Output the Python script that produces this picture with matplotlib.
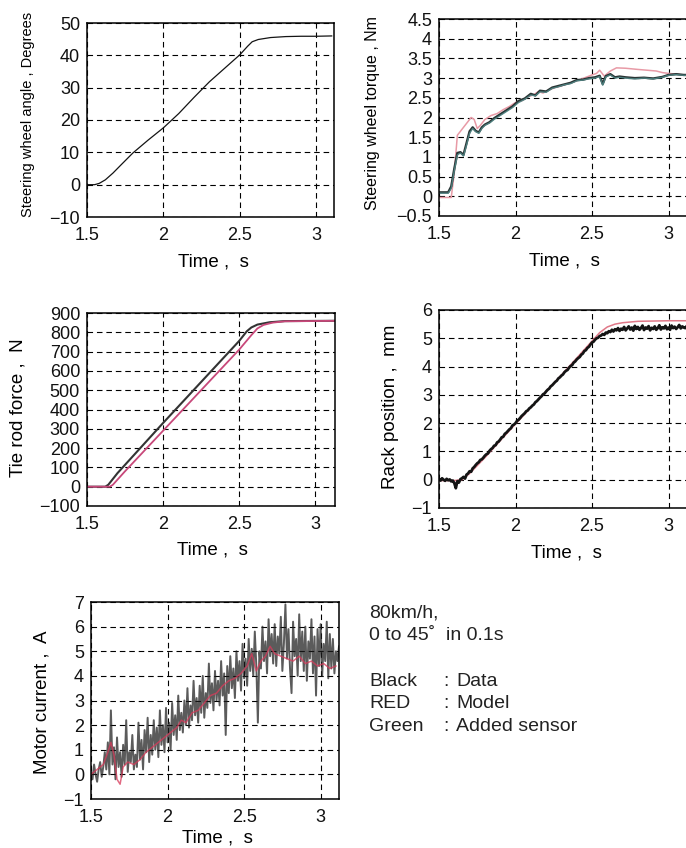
"""Steering step test at 80 km/h: measured data vs model vs added-sensor estimate.

Five panels (steering angle, wheel torque, tie rod force, rack position, motor
current) plus a small text key in the empty slot. Output: out.png
"""

import numpy as np
import matplotlib
matplotlib.use("Agg")
import matplotlib.pyplot as plt
from matplotlib.ticker import FuncFormatter

plt.rcParams["font.family"] = ["Liberation Sans", "DejaVu Sans"]

W, H = 686, 848
BLACK, RED, GREEN = "#141414", "#d2506e", "#4f8584"

# steering wheel angle, deg
ANG_T = [1.50, 1.55, 1.58, 1.62, 1.67, 1.72, 1.80, 1.90, 2.00, 2.10, 2.20, 2.30,
         2.40, 2.50, 2.55, 2.58, 2.62, 2.70, 2.80, 2.90, 3.00, 3.10]
ANG = [0.0, 0.0, 0.4, 1.5, 3.6, 6.0, 9.8, 13.8, 17.6, 22.0, 27.0, 31.8,
       36.0, 40.2, 42.8, 44.2, 44.9, 45.5, 45.8, 45.9, 45.9, 46.0]

# steering wheel torque, Nm
TQ_T = [1.50, 1.56, 1.58, 1.60, 1.62, 1.64, 1.66, 1.68, 1.70, 1.72, 1.74, 1.76,
        1.78, 1.80, 1.83, 1.86, 1.90, 1.94, 1.98, 2.02, 2.06, 2.10, 2.13, 2.16,
        2.20, 2.24, 2.28, 2.32, 2.36, 2.40, 2.44, 2.48, 2.52, 2.55, 2.57, 2.59,
        2.62, 2.65, 2.68, 2.72, 2.78, 2.84, 2.90, 2.96, 3.00, 3.05, 3.10, 3.20]
TQ_DATA = [0.10, 0.10, 0.25, 0.70, 1.10, 1.12, 1.05, 1.35, 1.65, 1.75, 1.66, 1.62,
           1.75, 1.82, 1.88, 1.98, 2.08, 2.18, 2.28, 2.42, 2.48, 2.60, 2.56, 2.68,
           2.66, 2.76, 2.80, 2.84, 2.88, 2.95, 2.96, 3.00, 3.02, 3.06, 2.85, 3.05,
           3.10, 3.02, 3.04, 3.02, 3.00, 3.01, 2.99, 3.03, 3.08, 3.10, 3.08, 3.08]
TQ_SENSOR = [0.08, 0.08, 0.20, 0.65, 1.05, 1.10, 1.02, 1.30, 1.60, 1.72, 1.64, 1.60,
             1.72, 1.80, 1.86, 1.95, 2.05, 2.15, 2.25, 2.38, 2.46, 2.57, 2.55, 2.65,
             2.64, 2.74, 2.78, 2.83, 2.86, 2.93, 2.95, 2.98, 3.00, 3.04, 2.82, 3.03,
             3.08, 3.00, 3.02, 3.00, 2.98, 3.00, 2.98, 3.02, 3.07, 3.09, 3.07, 3.07]
TQ_MODEL_T = [1.50, 1.58, 1.60, 1.62, 1.65, 1.68, 1.71, 1.73, 1.75, 1.77, 1.80, 1.84,
              1.88, 1.92, 1.96, 2.00, 2.04, 2.08, 2.12, 2.15, 2.18, 2.22, 2.26, 2.30,
              2.34, 2.38, 2.42, 2.46, 2.50, 2.53, 2.55, 2.58, 2.62, 2.66, 2.72, 2.80,
              2.86, 2.92, 2.96, 3.00, 3.05, 3.10, 3.20]
TQ_MODEL = [-0.03, -0.03, 0.60, 1.55, 1.70, 1.85, 2.00, 1.95, 1.72, 1.80, 1.95, 2.05,
            2.10, 2.20, 2.28, 2.38, 2.42, 2.52, 2.58, 2.66, 2.62, 2.70, 2.76, 2.80,
            2.86, 2.90, 2.96, 3.02, 3.08, 3.12, 3.20, 3.05, 3.18, 3.26, 3.25, 3.22,
            3.20, 3.18, 3.14, 3.12, 3.10, 3.08, 3.08]

# tie rod force, N
TR_T = [1.50, 1.62, 1.64, 1.70, 2.00, 2.50, 2.55, 2.58, 2.62, 2.70, 2.80, 3.20]
TR_DATA = [0, 0, 10, 70, 330, 755, 805, 825, 840, 852, 858, 860]
TR_MODEL_T = [1.50, 1.65, 1.67, 1.75, 2.00, 2.50, 2.58, 2.62, 2.66, 2.72, 2.80, 3.20]
TR_MODEL = [0, 0, 10, 80, 290, 710, 785, 820, 838, 850, 857, 860]

# rack position, mm (data sampled every 10 ms from 1.50 s)
RACK_DATA = [
    0.02, -0.03, 0.05, 0.00, -0.04, 0.03, -0.02, 0.01, -0.06, -0.03,
    -0.12, -0.30, -0.05, -0.10, 0.02, 0.05, 0.10, 0.04, 0.18, 0.22,
    0.30, 0.28, 0.40, 0.45, 0.52, 0.58, 0.62, 0.70, 0.72, 0.78,
    0.85, 0.90, 0.93, 1.02, 1.08, 1.12, 1.20, 1.22, 1.32, 1.35,
    1.42, 1.50, 1.52, 1.62, 1.66, 1.72, 1.78, 1.82, 1.92, 1.95,
    2.00, 2.08, 2.12, 2.18, 2.25, 2.30, 2.35, 2.42, 2.45, 2.52,
    2.56, 2.62, 2.66, 2.74, 2.78, 2.84, 2.90, 2.95, 3.02, 3.05,
    3.12, 3.18, 3.22, 3.30, 3.34, 3.40, 3.46, 3.50, 3.58, 3.62,
    3.68, 3.72, 3.80, 3.85, 3.88, 3.96, 4.02, 4.05, 4.14, 4.18,
    4.25, 4.30, 4.34, 4.42, 4.46, 4.55, 4.58, 4.66, 4.70, 4.78,
    4.85, 4.88, 4.95, 5.00, 5.02, 5.08, 5.10, 5.15, 5.12, 5.20,
    5.18, 5.25, 5.22, 5.30, 5.24, 5.32, 5.28, 5.36, 5.26, 5.34,
    5.30, 5.40, 5.28, 5.35, 5.42, 5.31, 5.38, 5.27, 5.44, 5.33,
    5.40, 5.30, 5.36, 5.45, 5.29, 5.38, 5.34, 5.43, 5.28, 5.37,
    5.33, 5.42, 5.30, 5.36, 5.46, 5.31, 5.39, 5.35, 5.44, 5.32,
    5.38, 5.30, 5.45, 5.36, 5.41, 5.33, 5.39, 5.47, 5.35, 5.42,
    5.38, 5.36, 5.44, 5.31, 5.40, 5.35, 5.43, 5.30, 5.39, 5.37, 5.41,
]
RACK_MODEL_T = [1.50, 1.60, 1.65, 1.70, 1.80, 1.90, 2.00, 2.10, 2.20, 2.30, 2.40,
                2.50, 2.55, 2.60, 2.65, 2.70, 2.80, 2.90, 3.00, 3.20]
RACK_MODEL = [-0.03, -0.03, 0.00, 0.22, 0.78, 1.38, 1.97, 2.55, 3.12, 3.70, 4.30,
              4.90, 5.20, 5.40, 5.50, 5.55, 5.60, 5.61, 5.62, 5.62]

# motor current, A (data sampled every 10 ms from 1.50 s)
MC_DATA = [
    0.1, -0.2, 0.4, 0.0, -0.3, 0.2, 0.5, -0.1, 0.3, 0.9,
    0.2, 1.3, 0.0, 2.6, 0.4, 1.1, -0.2, 1.5, 0.3, 0.9,
    -0.1, 1.2, 0.4, 2.2, 0.1, 0.9, 0.5, 1.6, 0.2, 0.8,
    0.3, 2.1, 0.6, 1.4, 0.2, 1.8, 0.9, 2.3, 0.5, 1.6,
    0.8, 2.2, 1.0, 1.9, 0.7, 2.6, 1.2, 2.0, 0.9, 2.7,
    1.3, 2.1, 1.0, 2.9, 1.6, 2.4, 1.4, 3.2, 1.8, 2.5,
    1.7, 3.0, 2.0, 3.5, 1.9, 2.8, 2.2, 3.8, 2.4, 3.1,
    2.1, 3.6, 2.5, 4.0, 2.3, 3.3, 2.7, 4.5, 2.9, 3.7,
    2.6, 4.2, 3.0, 3.8, 2.8, 4.6, 3.2, 4.1, 1.6, 4.4,
    3.3, 4.8, 3.5, 4.3, 3.1, 5.0, 3.8, 4.6, 3.4, 5.3,
    3.9, 4.7, 3.6, 5.5, 4.2, 5.1, 4.0, 5.8, 4.4, 2.1,
    5.0, 4.3, 6.0, 4.6, 5.4, 4.1, 6.3, 4.8, 5.7, 4.5,
    6.1, 4.4, 5.6, 4.9, 6.4, 4.2, 5.3, 6.9, 4.7, 5.9,
    4.3, 3.3, 6.2, 4.8, 5.5, 4.0, 6.5, 4.6, 5.8, 4.2,
    6.0, 3.8, 5.4, 4.7, 6.3, 4.1, 5.6, 3.2, 5.9, 4.4,
    6.1, 4.0, 5.3, 4.6, 6.2, 3.9, 5.7, 4.3, 5.5, 4.1,
    5.0, 4.6, 5.2,
]
MC_MODEL_T = [1.50, 1.54, 1.58, 1.61, 1.63, 1.65, 1.67, 1.69, 1.71, 1.74, 1.78, 1.82,
              1.86, 1.90, 1.94, 1.98, 2.02, 2.06, 2.09, 2.12, 2.16, 2.20, 2.24, 2.28,
              2.32, 2.36, 2.40, 2.44, 2.48, 2.52, 2.55, 2.58, 2.61, 2.64, 2.67, 2.70,
              2.74, 2.78, 2.82, 2.86, 2.90, 2.94, 2.98, 3.02, 3.06, 3.10]
MC_MODEL = [0.0, 0.2, 0.4, 0.9, 1.3, 0.8, -0.2, -0.4, 0.3, 0.5, 0.4, 0.6,
            0.9, 1.1, 1.3, 1.5, 1.7, 1.9, 2.2, 2.1, 2.5, 2.6, 2.9, 3.2,
            3.3, 3.6, 3.8, 3.9, 4.1, 4.4, 4.9, 4.2, 4.6, 4.8, 5.2, 4.9,
            4.8, 4.7, 4.6, 4.8, 4.5, 4.6, 4.4, 4.5, 4.3, 4.4]

T0, DT = 1.5, 0.01
XTICKS = [1.5, 2, 2.5, 3]
fmt = FuncFormatter(lambda v, _: f"{v:g}".replace("-", "\u2212"))


def add_axes(fig, l, t, r, b):
    # pixel box (from top-left) -> figure fraction
    return fig.add_axes([l / W, 1 - b / H, (r - l) / W, (b - t) / H])


def style(ax, xmax, ylim, ystep, ylabel, ysize, ylab_xy, xlab_xy):
    ax.set_xlim(1.5, xmax)
    ax.set_ylim(*ylim)
    ax.set_xticks(XTICKS)
    ax.set_yticks(np.arange(ylim[0], ylim[1] + ystep / 2, ystep))
    ax.xaxis.set_major_formatter(fmt)
    ax.yaxis.set_major_formatter(fmt)
    ax.tick_params(length=0, labelsize=13, colors="#111111")
    ax.tick_params(axis="y", pad=5)
    ax.tick_params(axis="x", pad=7)
    ax.grid(True, color="black", linestyle=(0, (5, 3.5)), linewidth=0.8)
    ax.set_axisbelow(True)
    for s in ax.spines.values():
        s.set_linewidth(1.1)
    ax.set_ylabel(ylabel, fontsize=ysize)
    ax.yaxis.set_label_coords(*ylab_xy)
    ax.set_xlabel("Time ,  s", fontsize=13.5)
    ax.xaxis.set_label_coords(*xlab_xy)


fig = plt.figure(figsize=(W / 100, H / 100), dpi=100)

ax1 = add_axes(fig, 87, 23, 334, 217)
ax1.plot(ANG_T, ANG, color=BLACK, lw=0.9)
style(ax1, 3.115, (-10, 50), 10, "Steering wheel angle , Degrees", 10.5,
      (-0.21, 0.53), (0.51, -0.19))

ax2 = add_axes(fig, 439, 19, 700, 216)
ax2.plot(TQ_MODEL_T, TQ_MODEL, color="#e89aa6", lw=1.1)
ax2.plot(TQ_T, TQ_DATA, color="#2a3434", lw=1.7)
ax2.plot(TQ_T, TQ_SENSOR, color=GREEN, lw=1.0, alpha=0.9)
style(ax2, 1.5 + 261 / 153, (-0.5, 4.5), 0.5, "Steering wheel torque , Nm", 11.5,
      (-0.227, 0.52), (0.48, -0.185))

ax3 = add_axes(fig, 87, 313, 335, 506)
ax3.plot(TR_T, TR_DATA, color="#333333", lw=1.5)
ax3.plot(TR_MODEL_T, TR_MODEL, color="#c8487a", lw=1.3)
style(ax3, 3.13, (-100, 900), 100, "Tie rod force ,  N", 13.5,
      (-0.242, 0.51), (0.505, -0.185))

ax4 = add_axes(fig, 439, 310, 700, 508)
t_rack = T0 + DT * np.arange(len(RACK_DATA))
ax4.plot(RACK_MODEL_T, RACK_MODEL, color="#e07888", lw=1.1)
ax4.plot(t_rack, RACK_DATA, color=BLACK, lw=2.0)
style(ax4, 1.5 + 261 / 153, (-1, 6), 1, "Rack position ,  mm", 13.5,
      (-0.154, 0.51), (0.487, -0.182))

ax5 = add_axes(fig, 91, 602, 339, 799)
t_mc = T0 + DT * np.arange(len(MC_DATA))
ax5.plot(t_mc, MC_DATA, color="#1c1c1c", lw=1.4, alpha=0.72)
ax5.plot(MC_MODEL_T, MC_MODEL, color="#d83a5a", lw=1.1, alpha=0.75)
style(ax5, 3.12, (-1, 7), 1, "Motor current ,  A", 13.5,
      (-0.165, 0.49), (0.51, -0.155))

# text key in the empty bottom-right slot
KEY = [("Black", "Data"), ("RED", "Model"), ("Green", "Added sensor")]
tx = dict(fontsize=14, color="#222222", va="baseline")
fig.text(369 / W, 1 - 618 / H, "80km/h,", **tx)
fig.text(369 / W, 1 - 640 / H, "0 to 45\u02da  in 0.1s", **tx)
for i, (name, what) in enumerate(KEY):
    y = 1 - (686 + 22.5 * i) / H
    fig.text(369 / W, y, name, **tx)
    fig.text(443 / W, y, ":", **tx)
    fig.text(456 / W, y, what, **tx)

fig.savefig("out.png", dpi=100)
plt.close(fig)
print("[ok] out.png")
